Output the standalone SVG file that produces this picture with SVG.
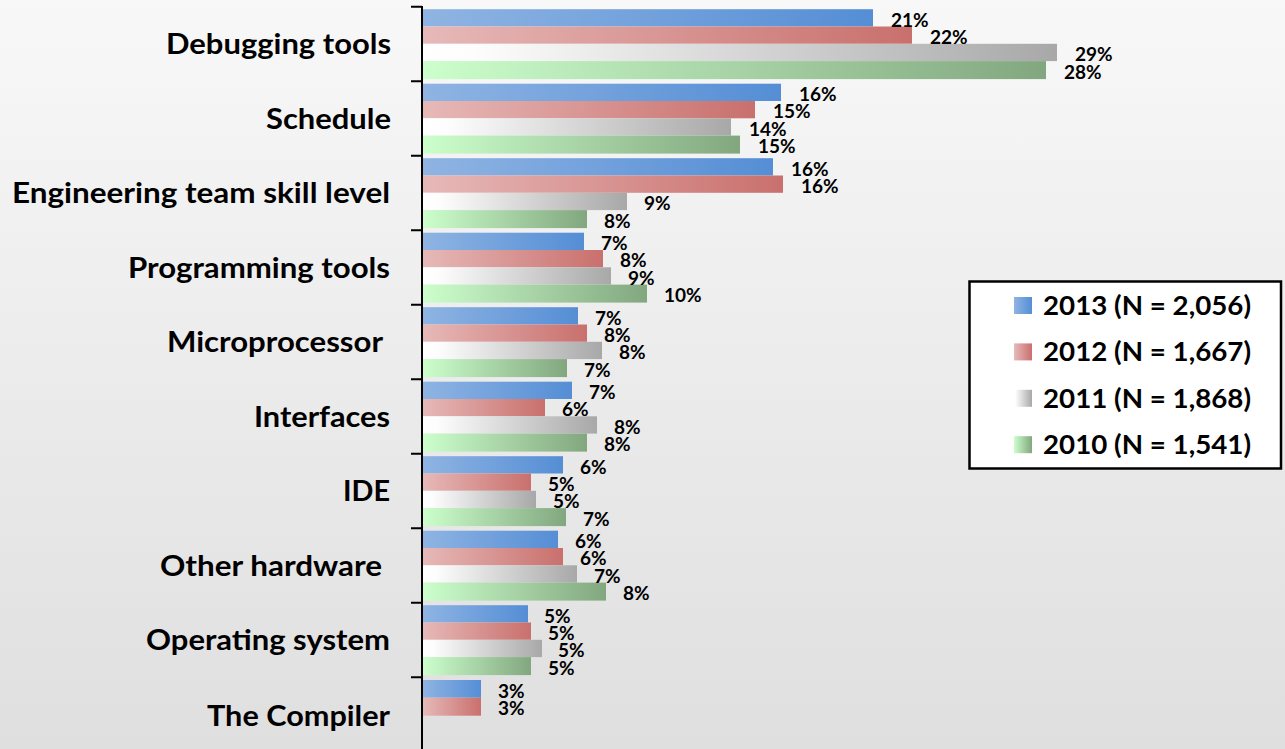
<svg xmlns="http://www.w3.org/2000/svg" width="1285" height="749" viewBox="0 0 1285 749">
<defs>
<linearGradient id="bg" x1="0" y1="0" x2="0" y2="1"><stop offset="0" stop-color="#f8f8f8"/><stop offset="1" stop-color="#dfdfdf"/></linearGradient>
<linearGradient id="gB" x1="0" y1="0" x2="1" y2="0"><stop offset="0" stop-color="#8fb4e3"/><stop offset="1" stop-color="#558ed5"/></linearGradient>
<linearGradient id="gR" x1="0" y1="0" x2="1" y2="0"><stop offset="0" stop-color="#e6b9b8"/><stop offset="1" stop-color="#c9706d"/></linearGradient>
<linearGradient id="gG" x1="0" y1="0" x2="1" y2="0"><stop offset="0" stop-color="#ffffff"/><stop offset="0.08" stop-color="#fdfdfd"/><stop offset="1" stop-color="#a8a8a8"/></linearGradient>
<linearGradient id="gN" x1="0" y1="0" x2="1" y2="0"><stop offset="0" stop-color="#ccffcc"/><stop offset="1" stop-color="#82a77f"/></linearGradient>
<style>
.b{fill:url(#gB)} .r{fill:url(#gR)} .g{fill:url(#gG)} .n{fill:url(#gN)}
.cat{font-family:Lato,"Liberation Sans",sans-serif;font-weight:bold;font-size:29px;fill:#000;text-anchor:end}
.val{font-family:Lato,"Liberation Sans",sans-serif;font-weight:bold;font-size:19px;fill:#000}
.leg{font-family:Lato,"Liberation Sans",sans-serif;font-weight:bold;font-size:27px;fill:#000}
.ax{stroke:#000;stroke-width:2;fill:none}
</style>
</defs>
<rect x="0" y="0" width="1285" height="749" fill="url(#bg)"/>

<g id="axis">
<path class="ax" d="M422 6V749M411 6.7H422M411 81.2H422M411 155.7H422M411 230.2H422M411 304.7H422M411 379.2H422M411 453.7H422M411 528.2H422M411 602.7H422M411 677.2H422"/>
</g>

<g id="cat-debugging">
<text class="cat" x="391" y="54" textLength="225" lengthAdjust="spacingAndGlyphs">Debugging tools</text>
<rect class="b" x="423" y="9.2" width="450" height="17.3"/><rect class="r" x="423" y="26.5" width="489" height="17.3"/><rect class="g" x="423" y="43.8" width="634" height="17.3"/><rect class="n" x="423" y="61.1" width="623" height="18"/>
<text class="val" x="891" y="26.5">21%</text><text class="val" x="930" y="43.8">22%</text><text class="val" x="1075" y="61.1">29%</text><text class="val" x="1064" y="78.6">28%</text>
</g>

<g id="cat-schedule">
<text class="cat" x="391" y="128.7" textLength="125" lengthAdjust="spacingAndGlyphs">Schedule</text>
<rect class="b" x="423" y="83.7" width="358" height="17.3"/><rect class="r" x="423" y="101" width="332" height="17.3"/><rect class="g" x="423" y="118.3" width="308" height="17.3"/><rect class="n" x="423" y="135.6" width="317" height="18"/>
<text class="val" x="799" y="101">16%</text><text class="val" x="773" y="118.3">15%</text><text class="val" x="749" y="135.6">14%</text><text class="val" x="758" y="153.1">15%</text>
</g>

<g id="cat-engineering">
<text class="cat" x="390" y="203.2" textLength="378" lengthAdjust="spacingAndGlyphs">Engineering team skill level</text>
<rect class="b" x="423" y="158.2" width="350" height="17.3"/><rect class="r" x="423" y="175.5" width="360" height="17.3"/><rect class="g" x="423" y="192.8" width="204" height="17.3"/><rect class="n" x="423" y="210.1" width="164" height="18"/>
<text class="val" x="791" y="175.5">16%</text><text class="val" x="801" y="192.8">16%</text><text class="val" x="644" y="210.1">9%</text><text class="val" x="604" y="227.6">8%</text>
</g>

<g id="cat-programming">
<text class="cat" x="390" y="277.7" textLength="262" lengthAdjust="spacingAndGlyphs">Programming tools</text>
<rect class="b" x="423" y="232.7" width="161" height="17.3"/><rect class="r" x="423" y="250" width="180" height="17.3"/><rect class="g" x="423" y="267.3" width="188" height="17.3"/><rect class="n" x="423" y="284.6" width="224" height="18"/>
<text class="val" x="601" y="250">7%</text><text class="val" x="620" y="267.3">8%</text><text class="val" x="628" y="284.6">9%</text><text class="val" x="664" y="302.1">10%</text>
</g>

<g id="cat-microprocessor">
<text class="cat" x="383" y="352.2" textLength="216" lengthAdjust="spacingAndGlyphs">Microprocessor</text>
<rect class="b" x="423" y="307.2" width="155" height="17.3"/><rect class="r" x="423" y="324.5" width="164" height="17.3"/><rect class="g" x="423" y="341.8" width="179" height="17.3"/><rect class="n" x="423" y="359.1" width="144" height="18"/>
<text class="val" x="595" y="324.5">7%</text><text class="val" x="604" y="341.8">8%</text><text class="val" x="619" y="359.1">8%</text><text class="val" x="584" y="376.6">7%</text>
</g>

<g id="cat-interfaces">
<text class="cat" x="390" y="426.7" textLength="136" lengthAdjust="spacingAndGlyphs">Interfaces</text>
<rect class="b" x="423" y="381.7" width="149" height="17.3"/><rect class="r" x="423" y="399" width="122" height="17.3"/><rect class="g" x="423" y="416.3" width="174" height="17.3"/><rect class="n" x="423" y="433.6" width="164" height="18"/>
<text class="val" x="589" y="399">7%</text><text class="val" x="562" y="416.3">6%</text><text class="val" x="614" y="433.6">8%</text><text class="val" x="604" y="451.1">8%</text>
</g>

<g id="cat-ide">
<text class="cat" x="390" y="501.2" textLength="47" lengthAdjust="spacingAndGlyphs">IDE</text>
<rect class="b" x="423" y="456.2" width="140" height="17.3"/><rect class="r" x="423" y="473.5" width="108" height="17.3"/><rect class="g" x="423" y="490.8" width="113" height="17.3"/><rect class="n" x="423" y="508.1" width="143" height="18"/>
<text class="val" x="580" y="473.5">6%</text><text class="val" x="548" y="490.8">5%</text><text class="val" x="553" y="508.1">5%</text><text class="val" x="583" y="525.6">7%</text>
</g>

<g id="cat-other-hardware">
<text class="cat" x="382" y="575.7" textLength="222" lengthAdjust="spacingAndGlyphs">Other hardware</text>
<rect class="b" x="423" y="530.7" width="135" height="17.3"/><rect class="r" x="423" y="548" width="140" height="17.3"/><rect class="g" x="423" y="565.3" width="154" height="17.3"/><rect class="n" x="423" y="582.6" width="183" height="18"/>
<text class="val" x="575" y="548">6%</text><text class="val" x="580" y="565.3">6%</text><text class="val" x="594" y="582.6">7%</text><text class="val" x="623" y="600.1">8%</text>
</g>

<g id="cat-operating-system">
<text class="cat" x="390" y="650.2" textLength="244" lengthAdjust="spacingAndGlyphs">Operating system</text>
<rect class="b" x="423" y="605.2" width="105" height="17.3"/><rect class="r" x="423" y="622.5" width="108" height="17.3"/><rect class="g" x="423" y="639.8" width="119" height="17.3"/><rect class="n" x="423" y="657.1" width="108" height="18"/>
<text class="val" x="544" y="622.5">5%</text><text class="val" x="548" y="639.8">5%</text><text class="val" x="558" y="657.1">5%</text><text class="val" x="548" y="674.6">5%</text>
</g>

<g id="cat-compiler">
<text class="cat" x="390" y="726" textLength="183" lengthAdjust="spacingAndGlyphs">The Compiler</text>
<rect class="b" x="423" y="680" width="58" height="17.7"/><rect class="r" x="423" y="697.7" width="58" height="18"/>
<text class="val" x="498" y="697.7">3%</text><text class="val" x="498" y="715.4">3%</text>
</g>

<g id="legend">
<rect x="969.5" y="281.5" width="311.5" height="187" fill="#fff" stroke="#000" stroke-width="2.5"/>
<rect class="b" x="1014" y="297" width="18" height="17"/>
<text class="leg" x="1043" y="315" textLength="208" lengthAdjust="spacingAndGlyphs">2013 (N = 2,056)</text>
<rect class="r" x="1014" y="343.4" width="18" height="17"/>
<text class="leg" x="1043" y="361.4" textLength="208" lengthAdjust="spacingAndGlyphs">2012 (N = 1,667)</text>
<rect class="g" x="1014" y="389.8" width="18" height="17"/>
<text class="leg" x="1043" y="407.8" textLength="208" lengthAdjust="spacingAndGlyphs">2011 (N = 1,868)</text>
<rect class="n" x="1014" y="436.2" width="18" height="17"/>
<text class="leg" x="1043" y="454.2" textLength="208" lengthAdjust="spacingAndGlyphs">2010 (N = 1,541)</text>
</g>
</svg>
